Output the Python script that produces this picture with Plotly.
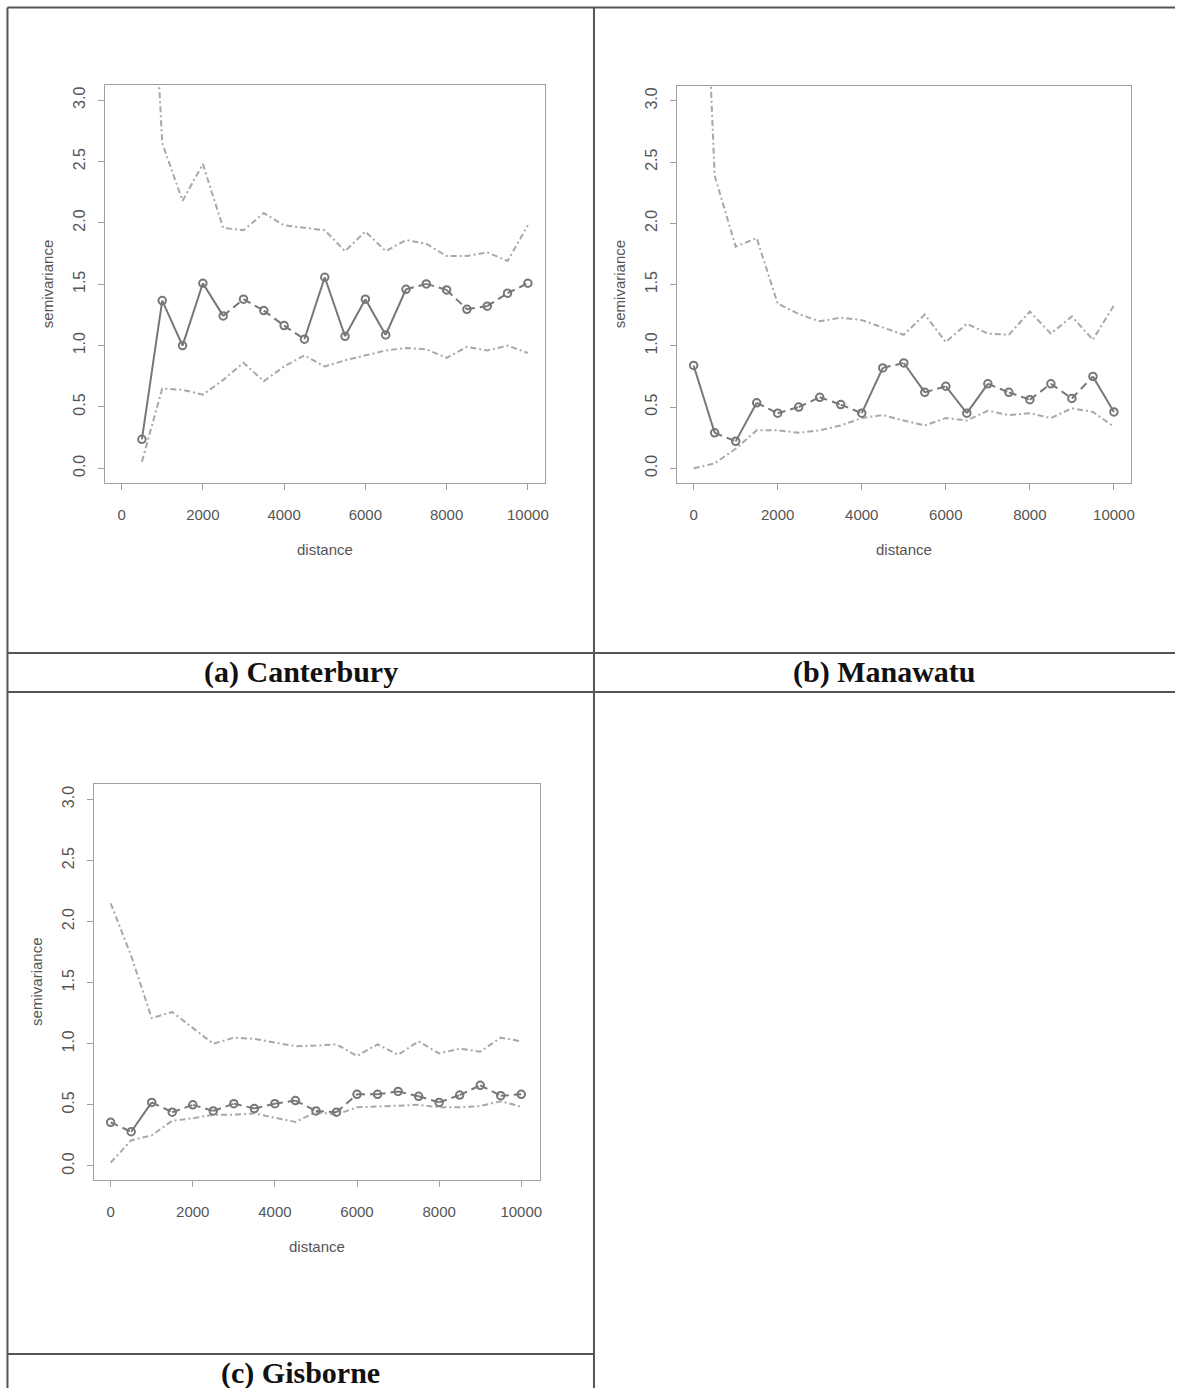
import plotly.graph_objects as go

# page pixel frame of the reference
W, H = 1179, 1388

# ---------------- data ----------------
dist_a = [500, 1000, 1500, 2000, 2500, 3000, 3500, 4000, 4500, 5000, 5500, 6000,
          6500, 7000, 7500, 8000, 8500, 9000, 9500, 10000]
semi_a = [0.236, 1.367, 1.0, 1.508, 1.242, 1.378, 1.285, 1.163, 1.052, 1.557, 1.076, 1.378,
          1.087, 1.459, 1.503, 1.454, 1.296, 1.321, 1.427, 1.508]
upper_a = [5.8, 2.65, 2.18, 2.48, 1.96, 1.94, 2.08, 1.98, 1.96, 1.94, 1.77, 1.93,
           1.77, 1.86, 1.83, 1.73, 1.73, 1.76, 1.69, 1.98]
lower_a = [0.054, 0.65, 0.64, 0.60, 0.72, 0.86, 0.71, 0.83, 0.92, 0.83, 0.88, 0.92,
           0.96, 0.98, 0.97, 0.90, 0.99, 0.96, 1.0, 0.94]

dist_b = [0, 500, 1000, 1500, 2000, 2500, 3000, 3500, 4000, 4500, 5000, 5500, 6000,
          6500, 7000, 7500, 8000, 8500, 9000, 9500, 10000]
semi_b = [0.84, 0.29, 0.22, 0.535, 0.45, 0.50, 0.58, 0.52, 0.45, 0.82, 0.86, 0.62, 0.67,
          0.45, 0.69, 0.62, 0.56, 0.69, 0.57, 0.75, 0.46]
upper_b = [6.5, 2.39, 1.81, 1.88, 1.345, 1.26, 1.20, 1.23, 1.21, 1.15, 1.09, 1.255, 1.03,
           1.18, 1.10, 1.09, 1.28, 1.10, 1.24, 1.05, 1.33]
lower_b = [0.0, 0.04, 0.16, 0.31, 0.31, 0.29, 0.31, 0.35, 0.41, 0.435, 0.39, 0.35, 0.41,
           0.39, 0.47, 0.435, 0.45, 0.41, 0.49, 0.46, 0.34]

dist_c = [0, 500, 1000, 1500, 2000, 2500, 3000, 3500, 4000, 4500, 5000, 5500, 6000,
          6500, 7000, 7500, 8000, 8500, 9000, 9500, 10000]
semi_c = [0.357, 0.28, 0.52, 0.44, 0.50, 0.45, 0.51, 0.47, 0.51, 0.535, 0.45, 0.44, 0.586,
          0.586, 0.61, 0.57, 0.52, 0.58, 0.66, 0.575, 0.586]
upper_c = [2.15, 1.72, 1.21, 1.26, 1.13, 1.0, 1.05, 1.04, 1.01, 0.98, 0.985, 0.995, 0.90,
           0.995, 0.91, 1.02, 0.92, 0.96, 0.935, 1.05, 1.02]
lower_c = [0.027, 0.21, 0.25, 0.37, 0.39, 0.42, 0.42, 0.43, 0.395, 0.36, 0.44, 0.42, 0.48,
           0.485, 0.49, 0.50, 0.48, 0.48, 0.49, 0.53, 0.485]

captions = ["(a) Canterbury", "(b) Manawatu", "(c) Gisborne"]
x_ticks = [0, 2000, 4000, 6000, 8000, 10000]
y_ticks = [0.0, 0.5, 1.0, 1.5, 2.0, 2.5, 3.0]
y_ticklabels = ["0.0", "0.5", "1.0", "1.5", "2.0", "2.5", "3.0"]
x_title = "distance"
y_title = "semivariance"


def px(x):
    return x / W


def py(y):
    return 1 - y / H


# ---------------- layout geometry (page pixels) ----------------
panels = [
    dict(d=dist_a, s=semi_a, u=upper_a, l=lower_a, box=(105.3, 85, 547, 483),
         xr=[-410, 10425], yr=[-0.12, 3.124]),
    dict(d=dist_b, s=semi_b, u=upper_b, l=lower_b, box=(679, 85.7, 1135, 483),
         xr=[-403, 10410], yr=[-0.12, 3.124]),
    dict(d=dist_c, s=semi_c, u=upper_c, l=lower_c, box=(94, 784, 542, 1180),
         xr=[-413, 10460], yr=[-0.115, 3.126]),
]

MID = "#777777"
ENV = "#a8a8a8"
TXT = "#555555"
FONT = "Liberation Sans, Arial, sans-serif"

fig = go.Figure()
layout = {}
annotations = []

for i, p in enumerate(panels, start=1):
    xa = "x" if i == 1 else f"x{i}"
    ya = "y" if i == 1 else f"y{i}"
    d, s = p["d"], p["s"]
    # steep segments of the sample variogram read as solid, flat ones as dashed
    sx, sy, dx_, dy_ = [], [], [], []
    for k in range(len(d) - 1):
        if abs(s[k + 1] - s[k]) >= 0.2:
            sx += [d[k], d[k + 1], None]
            sy += [s[k], s[k + 1], None]
        else:
            dx_ += [d[k], d[k + 1], None]
            dy_ += [s[k], s[k + 1], None]
    for env in (p["u"], p["l"]):
        fig.add_trace(go.Scatter(x=d, y=env, mode="lines", xaxis=xa, yaxis=ya,
                                 line=dict(color=ENV, width=2, dash="6px,3px,2px,3px"),
                                 showlegend=False, hoverinfo="skip"))
    fig.add_trace(go.Scatter(x=sx, y=sy, mode="lines", xaxis=xa, yaxis=ya,
                             line=dict(color=MID, width=2),
                             showlegend=False, hoverinfo="skip"))
    fig.add_trace(go.Scatter(x=dx_, y=dy_, mode="lines", xaxis=xa, yaxis=ya,
                             line=dict(color=MID, width=2, dash="8px,5px"),
                             showlegend=False, hoverinfo="skip"))
    fig.add_trace(go.Scatter(x=d, y=s, mode="markers", xaxis=xa, yaxis=ya,
                             marker=dict(symbol="circle-open", size=7.5,
                                         color=MID, line=dict(color=MID, width=2)),
                             showlegend=False, hoverinfo="skip"))

    L, T, R, B = p["box"]
    axis_common = dict(showline=True, mirror=True, linecolor="#a0a0a0", linewidth=1.2,
                       showgrid=False, zeroline=False, ticks="outside", ticklen=6,
                       tickcolor="#a0a0a0")
    layout["xaxis" if i == 1 else f"xaxis{i}"] = dict(
        domain=[px(L), px(R)], range=p["xr"], anchor=ya, tickvals=x_ticks,
        ticktext=[str(v) for v in x_ticks], ticklabelstandoff=12,
        tickfont=dict(family=FONT, size=15, color=TXT), **axis_common)
    layout["yaxis" if i == 1 else f"yaxis{i}"] = dict(
        domain=[py(B), py(T)], range=p["yr"], anchor=xa, tickvals=y_ticks,
        ticktext=y_ticklabels, tickangle=-90, ticklabelstandoff=6,
        tickfont=dict(family=FONT, size=16, color=TXT), **axis_common)

    cx = (L + R) / 2
    cy = (T + B) / 2
    annotations.append(dict(x=px(cx), y=py(B + 66), xref="paper", yref="paper",
                            text=x_title, showarrow=False,
                            font=dict(family=FONT, size=15, color=TXT),
                            xanchor="center", yanchor="middle"))
    annotations.append(dict(x=px(L - 58), y=py(cy), xref="paper", yref="paper",
                            text=y_title, showarrow=False, textangle=-90,
                            font=dict(family=FONT, size=15, color=TXT),
                            xanchor="center", yanchor="middle"))

cap_pos = [(302, 672), (888, 672), (302, 1373)]
for txt, (cx, cy) in zip(captions, cap_pos):
    annotations.append(dict(x=px(cx), y=py(cy), xref="paper", yref="paper",
                            text=f"<b>{txt}</b>", showarrow=False,
                            font=dict(family="Liberation Serif, Times New Roman, serif",
                                      size=30, color="#111111"),
                            xanchor="center", yanchor="middle"))

# table borders (page pixels)
LC = "#555555"
segs = [
    (7.5, 7.5, 1179, 7.5),      # top
    (7.5, 7.5, 7.5, 1388),      # left
    (596, 7.5, 596, 1388),      # middle vertical
    (7.5, 653, 1179, 653),      # caption row top
    (7.5, 692, 1179, 692),      # caption row bottom
    (7.5, 1354, 596, 1354),     # second caption row top
]
shapes = [dict(type="line", xref="paper", yref="paper",
               x0=px(x0), y0=py(y0), x1=px(x1), y1=py(y1),
               line=dict(color=LC, width=2)) for x0, y0, x1, y1 in segs]

fig.update_layout(width=W, height=H, margin=dict(l=0, r=0, t=0, b=0),
                  paper_bgcolor="white", plot_bgcolor="white",
                  annotations=annotations, shapes=shapes, **layout)

# make the page exactly the figure's size (no default body margin, no overflow)
page_js = (
    "var s=document.documentElement.style, b=document.body.style;"
    "s.margin='0';s.padding='0';s.overflow='hidden';"
    f"s.width='{W}px';s.height='{H}px';"
    "b.margin='0';b.padding='0';b.overflow='hidden';"
    f"b.width='{W}px';b.height='{H}px';"
    "var g=document.querySelector('.plotly-graph-div');"
    "if(g&&g.parentNode){g.parentNode.style.height='" + str(H) + "px';"
    "g.parentNode.style.overflow='hidden';g.style.display='block';}"
)
fig.write_html("out.html", config={"displayModeBar": False}, post_script=page_js)
